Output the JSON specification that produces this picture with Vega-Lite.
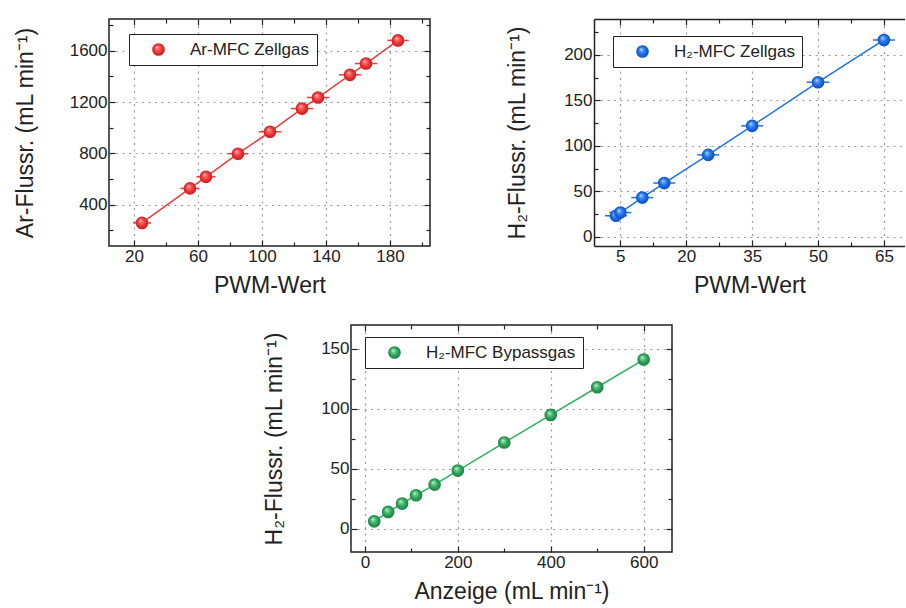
{
  "$schema": "https://vega.github.io/schema/vega-lite/v6.json",
  "background": "white",
  "padding": {"left": 13, "top": 15, "right": 0, "bottom": 0},
  "config": {
    "font": "Liberation Sans",
    "view": {"stroke": "#222", "strokeWidth": 1.5},
    "axis": {
      "labelFont": "Liberation Sans",
      "labelFontSize": 17,
      "labelColor": "#222",
      "titleFont": "Liberation Sans",
      "titleFontSize": 23,
      "titleFontWeight": "normal",
      "titleColor": "#222",
      "domain": false,
      "tickColor": "#222",
      "tickWidth": 1.2,
      "gridColor": "#999999",
      "gridDash": [2, 4.5],
      "gridWidth": 1.2,
      "labelFlush": false,
      "labelOverlap": false,
      "labelPadding": 8,
      "format": "d"
    },
    "legend": {
      "labelFont": "Liberation Sans",
      "labelFontSize": 17,
      "labelColor": "#222",
      "strokeColor": "#222",
      "fillColor": "white",
      "padding": 7,
      "symbolOffset": 14,
      "labelOffset": 23,
      "symbolSize": 160,
      "symbolStrokeWidth": 0,
      "title": null
    }
  },
  "spacing": 25,
  "resolve": {"scale": {"shape": "independent"}, "legend": {"shape": "independent"}},
  "vconcat": [
    {
      "spacing": 74,
      "resolve": {"scale": {"shape": "independent"}, "legend": {"shape": "independent"}},
      "hconcat": [
        {
          "width": 321,
          "height": 227,
          "data": {"values": [
            {"x": 25, "y": 258, "xerr": 5.7, "series": "Ar-MFC Zellgas"},
            {"x": 55, "y": 527, "xerr": 6, "series": "Ar-MFC Zellgas"},
            {"x": 65, "y": 617, "xerr": 6, "series": "Ar-MFC Zellgas"},
            {"x": 85, "y": 797, "xerr": 6.5, "series": "Ar-MFC Zellgas"},
            {"x": 105, "y": 968, "xerr": 7, "series": "Ar-MFC Zellgas"},
            {"x": 125, "y": 1149, "xerr": 7, "series": "Ar-MFC Zellgas"},
            {"x": 135, "y": 1235, "xerr": 7, "series": "Ar-MFC Zellgas"},
            {"x": 155, "y": 1412, "xerr": 7, "series": "Ar-MFC Zellgas"},
            {"x": 165, "y": 1500, "xerr": 7, "series": "Ar-MFC Zellgas"},
            {"x": 185, "y": 1680, "xerr": 6.7, "series": "Ar-MFC Zellgas"}
          ]},
          "layer": [
            {
              "mark": {"type": "errorbar", "color": "#ef3b3b", "thickness": 1.5},
              "encoding": {
                "x": {"field": "x", "type": "quantitative", "scale": {"domain": [4.4, 205], "nice": false, "zero": false}, "axis": null},
                "xError": {"field": "xerr"},
                "y": {"field": "y", "type": "quantitative", "scale": {"domain": [78, 1847], "nice": false, "zero": false}, "axis": null}
              }
            },
            {
              "mark": {"type": "line", "color": "#ef3b3b", "strokeWidth": 1.5},
              "encoding": {
                "x": {"field": "x", "type": "quantitative", "scale": {"domain": [4.4, 205], "nice": false, "zero": false},
                  "axis": {"orient": "bottom", "title": "PWM-Wert", "values": [20, 40, 60, 80, 100, 120, 140, 160, 180, 200],
                    "labelExpr": "(datum.value - 20) % 40 === 0 ? datum.label : ''",
                    "grid": true,
                    "gridOpacity": {"condition": {"test": "(datum.value - 20) % 40 === 0", "value": 1}, "value": 0},
                    "tickSize": {"condition": {"test": "(datum.value - 20) % 40 === 0", "value": -6}, "value": -4},
                    "titlePadding": 8}},
                "y": {"field": "y", "type": "quantitative", "scale": {"domain": [78, 1847], "nice": false, "zero": false},
                  "axis": {"orient": "left", "title": "Ar-Flussr. (mL min⁻¹)", "values": [200, 400, 600, 800, 1000, 1200, 1400, 1600, 1800],
                    "labelExpr": "datum.value % 400 === 0 ? datum.label : ''",
                    "grid": true,
                    "gridOpacity": {"condition": {"test": "datum.value % 400 === 0", "value": 1}, "value": 0},
                    "tickSize": {"condition": {"test": "datum.value % 400 === 0", "value": -6}, "value": -4},
                    "titlePadding": 32}}
              }
            },
            {
              "mark": {"type": "point", "shape": "circle", "filled": true, "size": 160, "opacity": 1, "strokeWidth": 0,
                "fill": {"gradient": "radial", "x1": 0.38, "y1": 0.32, "r1": 0, "x2": 0.5, "y2": 0.5, "r2": 0.5,
                  "stops": [{"offset": 0, "color": "#ffe6e6"}, {"offset": 0.2, "color": "#ff7a7a"}, {"offset": 0.55, "color": "#f03c3c"}, {"offset": 1, "color": "#c41e1e"}]}},
              "encoding": {
                "x": {"field": "x", "type": "quantitative", "scale": {"domain": [4.4, 205], "nice": false, "zero": false},
                  "axis": {"orient": "top", "title": null, "labels": false, "grid": false, "values": [20, 40, 60, 80, 100, 120, 140, 160, 180, 200],
                    "tickSize": {"condition": {"test": "(datum.value - 20) % 40 === 0", "value": -6}, "value": -4}}},
                "y": {"field": "y", "type": "quantitative", "scale": {"domain": [78, 1847], "nice": false, "zero": false},
                  "axis": {"orient": "right", "title": null, "labels": false, "grid": false, "values": [200, 400, 600, 800, 1000, 1200, 1400, 1600, 1800],
                    "tickSize": {"condition": {"test": "datum.value % 400 === 0", "value": -6}, "value": -4}}},
                "shape": {"field": "series", "type": "nominal", "scale": {"range": ["circle"]},
                  "legend": {"orient": "none", "legendX": 20, "legendY": 15,
                    "symbolFillColor": {"gradient": "radial", "x1": 0.38, "y1": 0.32, "r1": 0, "x2": 0.5, "y2": 0.5, "r2": 0.5,
                      "stops": [{"offset": 0, "color": "#ffe6e6"}, {"offset": 0.2, "color": "#ff7a7a"}, {"offset": 0.55, "color": "#f03c3c"}, {"offset": 1, "color": "#c41e1e"}]}}}
              }
            }
          ],
          "resolve": {"axis": {"x": "independent", "y": "independent"}}
        },
        {
          "width": 311,
          "height": 227,
          "view": {"stroke": null},
          "data": {"values": [
            {"x": 4, "y": 23, "xerr": 2.5, "series": "H₂-MFC Zellgas"},
            {"x": 5, "y": 26.5, "xerr": 2.5, "series": "H₂-MFC Zellgas"},
            {"x": 10, "y": 43, "xerr": 2.5, "series": "H₂-MFC Zellgas"},
            {"x": 15, "y": 59, "xerr": 2.5, "series": "H₂-MFC Zellgas"},
            {"x": 25, "y": 90, "xerr": 2.5, "series": "H₂-MFC Zellgas"},
            {"x": 35, "y": 122, "xerr": 2.5, "series": "H₂-MFC Zellgas"},
            {"x": 50, "y": 170, "xerr": 2.6, "series": "H₂-MFC Zellgas"},
            {"x": 65, "y": 216.5, "xerr": 2.5, "series": "H₂-MFC Zellgas"}
          ]},
          "layer": [
            {
              "mark": {"type": "errorbar", "color": "#1f72e6", "thickness": 1.5},
              "encoding": {
                "x": {"field": "x", "type": "quantitative", "scale": {"domain": [-1, 69.8], "nice": false, "zero": false}, "axis": null},
                "xError": {"field": "xerr"},
                "y": {"field": "y", "type": "quantitative", "scale": {"domain": [-10.3, 239.6], "nice": false, "zero": false}, "axis": null}
              }
            },
            {
              "mark": {"type": "line", "color": "#1f72e6", "strokeWidth": 1.5},
              "encoding": {
                "x": {"field": "x", "type": "quantitative", "scale": {"domain": [-1, 69.8], "nice": false, "zero": false},
                  "axis": {"orient": "bottom", "title": "PWM-Wert", "values": [5, 12.5, 20, 27.5, 35, 42.5, 50, 57.5, 65],
                    "labelExpr": "(datum.value - 5) % 15 === 0 ? datum.label : ''",
                    "grid": true,
                    "gridOpacity": {"condition": {"test": "(datum.value - 5) % 15 === 0", "value": 1}, "value": 0},
                    "tickSize": {"condition": {"test": "(datum.value - 5) % 15 === 0", "value": -6}, "value": -4},
                    "domain": true, "domainColor": "#222", "domainWidth": 1.5,
                    "titlePadding": 8}},
                "y": {"field": "y", "type": "quantitative", "scale": {"domain": [-10.3, 239.6], "nice": false, "zero": false},
                  "axis": {"orient": "left", "title": "H₂-Flussr. (mL min⁻¹)", "values": [0, 25, 50, 75, 100, 125, 150, 175, 200, 225],
                    "labelExpr": "datum.value % 50 === 0 ? datum.label : ''",
                    "grid": true,
                    "gridOpacity": {"condition": {"test": "datum.value % 50 === 0", "value": 1}, "value": 0},
                    "tickSize": {"condition": {"test": "datum.value % 50 === 0", "value": -6}, "value": -4},
                    "domain": true, "domainColor": "#222", "domainWidth": 1.5,
                    "titlePadding": 34}}
              }
            },
            {
              "mark": {"type": "point", "shape": "circle", "filled": true, "size": 160, "opacity": 1, "strokeWidth": 0,
                "fill": {"gradient": "radial", "x1": 0.38, "y1": 0.32, "r1": 0, "x2": 0.5, "y2": 0.5, "r2": 0.5,
                  "stops": [{"offset": 0, "color": "#e6f2ff"}, {"offset": 0.2, "color": "#6aa8ff"}, {"offset": 0.55, "color": "#2272ea"}, {"offset": 1, "color": "#0d4fb8"}]}},
              "encoding": {
                "x": {"field": "x", "type": "quantitative", "scale": {"domain": [-1, 69.8], "nice": false, "zero": false},
                  "axis": {"orient": "top", "title": null, "labels": false, "grid": false, "values": [5, 12.5, 20, 27.5, 35, 42.5, 50, 57.5, 65],
                    "domain": true, "domainColor": "#222", "domainWidth": 1.5,
                    "tickSize": {"condition": {"test": "(datum.value - 5) % 15 === 0", "value": -6}, "value": -4}}},
                "y": {"field": "y", "type": "quantitative", "scale": {"domain": [-10.3, 239.6], "nice": false, "zero": false}, "axis": null},
                "shape": {"field": "series", "type": "nominal", "scale": {"range": ["circle"]},
                  "legend": {"orient": "none", "legendX": 19, "legendY": 17,
                    "symbolFillColor": {"gradient": "radial", "x1": 0.38, "y1": 0.32, "r1": 0, "x2": 0.5, "y2": 0.5, "r2": 0.5,
                      "stops": [{"offset": 0, "color": "#e6f2ff"}, {"offset": 0.2, "color": "#6aa8ff"}, {"offset": 0.55, "color": "#2272ea"}, {"offset": 1, "color": "#0d4fb8"}]}}}
              }
            }
          ],
          "resolve": {"axis": {"x": "independent", "y": "independent"}}
        }
      ]
    },
    {
      "spacing": 0,
      "align": "none",
      "resolve": {"scale": {"shape": "independent"}, "legend": {"shape": "independent"}},
      "hconcat": [
        {
          "width": 152.6,
          "height": 10,
          "view": {"stroke": null},
          "data": {"values": []},
          "mark": {"type": "point"},
          "encoding": {}
        },
        {
          "width": 321,
          "height": 227,
          "data": {"values": [
            {"x": 20, "y": 6.1, "series": "H₂-MFC Bypassgas"},
            {"x": 50, "y": 13.9, "series": "H₂-MFC Bypassgas"},
            {"x": 80, "y": 20.9, "series": "H₂-MFC Bypassgas"},
            {"x": 110, "y": 27.8, "series": "H₂-MFC Bypassgas"},
            {"x": 150, "y": 36.7, "series": "H₂-MFC Bypassgas"},
            {"x": 200, "y": 48.4, "series": "H₂-MFC Bypassgas"},
            {"x": 300, "y": 71.8, "series": "H₂-MFC Bypassgas"},
            {"x": 400, "y": 94.8, "series": "H₂-MFC Bypassgas"},
            {"x": 500, "y": 117.9, "series": "H₂-MFC Bypassgas"},
            {"x": 600, "y": 141, "series": "H₂-MFC Bypassgas"}
          ]},
          "layer": [
            {
              "mark": {"type": "line", "color": "#2eb062", "strokeWidth": 1.5},
              "encoding": {
                "x": {"field": "x", "type": "quantitative", "scale": {"domain": [-30, 661], "nice": false, "zero": false},
                  "axis": {"orient": "bottom", "title": "Anzeige (mL min⁻¹)", "values": [0, 100, 200, 300, 400, 500, 600],
                    "labelExpr": "datum.value % 200 === 0 ? datum.label : ''",
                    "grid": true,
                    "gridOpacity": {"condition": {"test": "datum.value % 200 === 0", "value": 1}, "value": 0},
                    "tickSize": {"condition": {"test": "datum.value % 200 === 0", "value": -6}, "value": -4},
                    "titlePadding": 8}},
                "y": {"field": "y", "type": "quantitative", "scale": {"domain": [-19.5, 169.8], "nice": false, "zero": false},
                  "axis": {"orient": "left", "title": "H₂-Flussr. (mL min⁻¹)", "values": [0, 25, 50, 75, 100, 125, 150],
                    "labelExpr": "datum.value % 50 === 0 ? datum.label : ''",
                    "grid": true,
                    "gridOpacity": {"condition": {"test": "datum.value % 50 === 0", "value": 1}, "value": 0},
                    "tickSize": {"condition": {"test": "datum.value % 50 === 0", "value": -6}, "value": -4},
                    "titlePadding": 34}}
              }
            },
            {
              "mark": {"type": "point", "shape": "circle", "filled": true, "size": 160, "opacity": 1, "strokeWidth": 0,
                "fill": {"gradient": "radial", "x1": 0.38, "y1": 0.32, "r1": 0, "x2": 0.5, "y2": 0.5, "r2": 0.5,
                  "stops": [{"offset": 0, "color": "#e6ffee"}, {"offset": 0.2, "color": "#7ed69d"}, {"offset": 0.55, "color": "#35ac61"}, {"offset": 1, "color": "#1b7f40"}]}},
              "encoding": {
                "x": {"field": "x", "type": "quantitative", "scale": {"domain": [-30, 661], "nice": false, "zero": false},
                  "axis": {"orient": "top", "title": null, "labels": false, "grid": false, "values": [0, 100, 200, 300, 400, 500, 600],
                    "tickSize": {"condition": {"test": "datum.value % 200 === 0", "value": -6}, "value": -4}}},
                "y": {"field": "y", "type": "quantitative", "scale": {"domain": [-19.5, 169.8], "nice": false, "zero": false},
                  "axis": {"orient": "right", "title": null, "labels": false, "grid": false, "values": [0, 25, 50, 75, 100, 125, 150],
                    "tickSize": {"condition": {"test": "datum.value % 50 === 0", "value": -6}, "value": -4}}},
                "shape": {"field": "series", "type": "nominal", "scale": {"range": ["circle"]},
                  "legend": {"orient": "none", "legendX": 14, "legendY": 12,
                    "symbolFillColor": {"gradient": "radial", "x1": 0.38, "y1": 0.32, "r1": 0, "x2": 0.5, "y2": 0.5, "r2": 0.5,
                      "stops": [{"offset": 0, "color": "#e6ffee"}, {"offset": 0.2, "color": "#7ed69d"}, {"offset": 0.55, "color": "#35ac61"}, {"offset": 1, "color": "#1b7f40"}]}}}
              }
            }
          ],
          "resolve": {"axis": {"x": "independent", "y": "independent"}}
        }
      ]
    }
  ]
}
